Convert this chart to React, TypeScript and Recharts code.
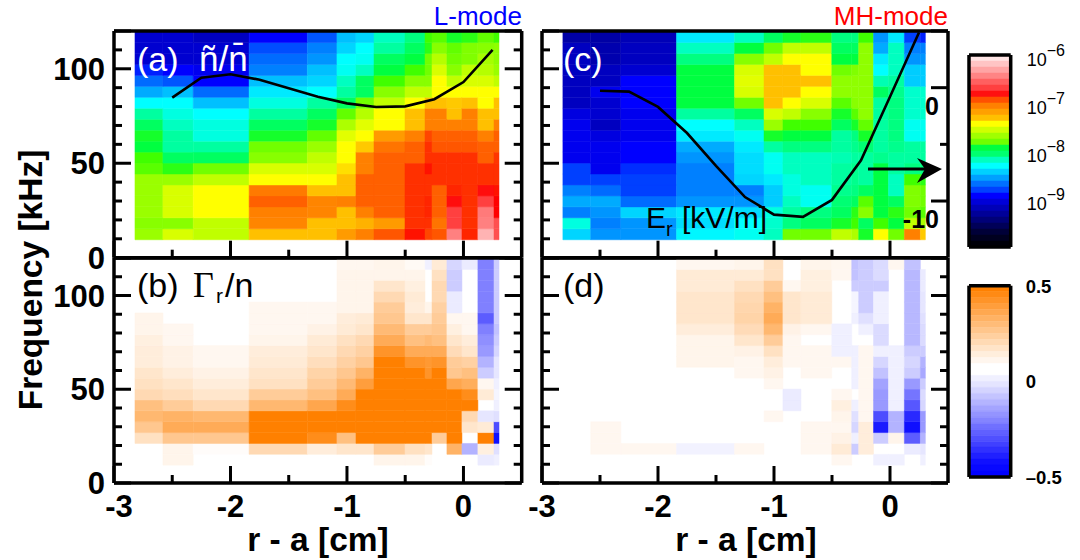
import { ComposedChart, Line, ReferenceArea, XAxis, YAxis } from "recharts";

const FONT = "Liberation Sans, Arial, sans-serif";
const W = 1080;
const H = 560;

// column edges (r - a, cm) and row edges (kHz) of the spectrograms
const X_EDGES = [-2.82, -2.58, -2.32, -1.84, -1.34, -1.086, -0.923, -0.768, -0.502, -0.33, -0.27, -0.142, -0.013, 0.124, 0.262, 0.305];
const F_EDGES = [9.5, 15.3, 21.1, 26.9, 32.7, 38.5, 44.3, 50.1, 55.9, 61.7, 67.5, 73.3, 79.1, 84.9, 90.7, 96.5, 102.3, 108.1, 113.9, 119.9];

const X_TICKS = [-3, -2.5, -2, -1.5, -1, -0.5, 0];
const X_MAJOR = [-3, -2, -1, 0];
const F_TICKS = [0, 10, 20, 30, 40, 50, 60, 70, 80, 90, 100, 110, 120];
const F_MAJOR = [0, 50, 100, 120];
const ER_TICKS = [-15, -10, -5, 0, 5];
const ER_MAJOR = [-15, -10, 0, 5];

// log10 spectrum, one list per column, bottom row first
const SPEC_L = [
  [-7.65, -7.7, -7.65, -7.65, -7.65, -7.65, -7.8, -7.85, -8.0, -7.95, -8.05, -8.15, -8.3, -8.5, -8.65, -8.8, -9.0, -9.0, -9.0],
  [-7.5, -7.7, -7.5, -7.5, -7.5, -7.65, -7.9, -8.05, -8.15, -8.15, -8.2, -8.25, -8.3, -8.45, -8.7, -8.85, -9.0, -9.0, -9.0],
  [-7.55, -7.55, -7.42, -7.42, -7.42, -7.55, -7.75, -8.05, -8.15, -8.25, -8.25, -8.3, -8.45, -8.65, -8.85, -8.9, -9.0, -9.0, -9.05],
  [-7.28, -7.15, -7.14, -7.03, -7.12, -7.42, -7.5, -7.7, -7.75, -7.95, -8.05, -8.15, -8.25, -8.35, -8.45, -8.6, -8.65, -8.72, -8.85],
  [-7.28, -7.28, -7.15, -7.15, -7.28, -7.42, -7.5, -7.55, -7.65, -7.78, -7.95, -8.05, -8.15, -8.3, -8.4, -8.45, -8.55, -8.6, -8.7],
  [-7.2, -7.28, -7.28, -7.14, -7.28, -7.28, -7.35, -7.42, -7.42, -7.48, -7.6, -7.78, -8.05, -8.15, -8.2, -8.28, -8.3, -8.4, -8.45],
  [-7.14, -7.25, -7.14, -7.03, -7.03, -7.03, -7.14, -7.14, -7.3, -7.42, -7.48, -7.58, -7.75, -8.05, -8.05, -8.2, -8.28, -8.3, -8.4],
  [-7.0, -7.2, -7.03, -7.03, -7.03, -7.03, -7.03, -7.03, -7.1, -7.2, -7.42, -7.42, -7.55, -7.7, -7.85, -8.0, -8.05, -8.15, -8.2],
  [-6.8, -6.88, -6.88, -6.88, -6.88, -6.88, -6.88, -7.03, -7.03, -7.14, -7.28, -7.28, -7.42, -7.55, -7.7, -7.85, -8.0, -8.05, -8.1],
  [-6.95, -6.88, -6.85, -6.85, -6.88, -6.88, -6.8, -6.88, -6.88, -6.95, -7.14, -7.14, -7.28, -7.55, -7.7, -7.75, -7.75, -7.9, -7.85],
  [-7.0, -7.1, -7.03, -7.03, -7.03, -6.88, -6.88, -6.88, -7.0, -7.03, -7.14, -7.14, -7.28, -7.42, -7.42, -7.5, -7.58, -7.7, -7.8],
  [-6.4, -6.6, -6.6, -6.72, -6.85, -6.88, -6.88, -6.88, -7.0, -7.03, -7.14, -7.28, -7.3, -7.42, -7.55, -7.7, -7.75, -7.78, -7.95],
  [-6.85, -6.88, -6.88, -6.88, -6.88, -6.88, -6.88, -6.88, -7.0, -7.03, -7.14, -7.14, -7.28, -7.42, -7.5, -7.55, -7.72, -7.72, -7.9],
  [-6.2, -6.4, -6.42, -6.6, -6.72, -6.88, -6.88, -7.03, -7.03, -7.14, -7.28, -7.28, -7.42, -7.42, -7.5, -7.58, -7.62, -7.7, -7.78],
  [-6.55, -6.55, -6.75, -6.75, -6.8, -6.88, -6.88, -6.9, -7.03, -7.03, -7.14, -7.28, -7.28, -7.42, -7.55, -7.65, -7.68, -7.68, -7.85],
];

const SPEC_MH = [
  [-8.4, -8.25, -8.6, -8.5, -8.6, -8.75, -8.75, -8.9, -8.9, -8.9, -8.9, -8.95, -9.05, -9.05, -9.05, -9.05, -9.05, -9.05, -9.2],
  [-8.55, -8.6, -8.55, -8.5, -8.65, -8.75, -8.9, -8.9, -8.9, -8.95, -9.05, -9.0, -9.0, -8.9, -9.05, -9.05, -9.15, -9.15, -9.2],
  [-8.55, -8.55, -8.4, -8.65, -8.75, -8.75, -8.78, -8.85, -8.85, -8.9, -8.9, -8.9, -8.85, -8.85, -8.85, -9.0, -9.05, -9.05, -9.1],
  [-8.32, -8.38, -8.35, -8.55, -8.6, -8.6, -8.6, -8.55, -8.5, -8.35, -8.3, -8.15, -8.0, -8.0, -8.0, -8.0, -8.1, -8.2, -8.35],
  [-8.28, -8.3, -8.38, -8.55, -8.6, -8.4, -8.38, -8.38, -8.35, -8.28, -8.2, -8.05, -7.75, -7.5, -7.48, -7.5, -7.7, -8.0, -8.2],
  [-8.2, -8.22, -8.25, -8.42, -8.42, -8.35, -8.28, -8.28, -8.15, -7.95, -7.65, -7.5, -7.28, -7.28, -7.28, -7.28, -7.55, -7.75, -8.05],
  [-7.75, -8.1, -8.15, -8.2, -8.25, -8.25, -8.2, -8.2, -8.1, -8.0, -7.85, -7.55, -7.42, -7.28, -7.28, -7.28, -7.42, -7.55, -7.95],
  [-7.75, -8.05, -8.1, -8.28, -8.28, -8.2, -8.2, -8.2, -8.1, -8.0, -7.85, -7.7, -7.5, -7.42, -7.28, -7.42, -7.42, -7.55, -7.9],
  [-7.55, -7.95, -8.05, -8.08, -8.12, -8.15, -8.15, -8.18, -8.15, -8.15, -8.05, -7.95, -7.8, -7.68, -7.68, -7.75, -8.0, -8.05, -8.1],
  [-7.6, -7.85, -7.9, -8.05, -8.1, -8.12, -8.12, -8.15, -8.12, -8.1, -7.95, -7.8, -7.7, -7.68, -7.68, -7.72, -8.0, -8.05, -8.1],
  [-7.95, -8.05, -7.7, -7.8, -8.05, -8.15, -8.15, -8.15, -8.08, -7.95, -7.78, -7.68, -7.68, -7.68, -7.68, -7.68, -7.68, -7.68, -7.85],
  [-7.42, -7.85, -8.0, -8.0, -8.0, -8.0, -8.0, -8.12, -8.15, -8.15, -8.15, -8.15, -8.15, -8.05, -8.18, -8.3, -8.35, -8.5, -8.55],
  [-7.75, -8.0, -7.9, -8.05, -8.2, -8.2, -8.15, -8.15, -8.12, -8.1, -8.1, -8.1, -8.1, -8.12, -8.15, -8.2, -8.2, -8.2, -8.35],
  [-7.14, -7.55, -7.75, -7.72, -7.72, -7.85, -8.1, -8.15, -8.15, -8.28, -8.28, -8.22, -8.22, -8.22, -8.42, -8.42, -8.55, -8.6, -8.75],
  [-7.3, -7.6, -7.8, -7.75, -7.75, -7.9, -8.1, -8.15, -8.15, -8.28, -8.28, -8.22, -8.22, -8.22, -8.42, -8.42, -8.55, -8.6, -8.8],
];

// particle flux, same layout
const FLUX_L = [
  [0, 0, 0.12, 0.22, 0.28, 0.25, 0.15, 0.12, 0.1, 0.07, 0.07, 0.06, 0.04, 0.04, 0, 0, 0, 0, 0],
  [0.04, 0.04, 0.22, 0.33, 0.3, 0.2, 0.13, 0.1, 0.07, 0.05, 0.05, 0.03, 0.03, 0, 0, 0, 0, 0, 0],
  [0, 0.01, 0.22, 0.33, 0.28, 0.15, 0.1, 0.07, 0.05, 0.03, 0.03, 0, 0, 0, 0, 0, 0, 0, 0],
  [0, 0.15, 0.5, 0.5, 0.5, 0.28, 0.2, 0.12, 0.1, 0.08, 0.07, 0.04, 0.03, 0.03, 0.03, 0, 0, 0, 0],
  [0, 0.07, 0.45, 0.5, 0.5, 0.35, 0.25, 0.2, 0.17, 0.13, 0.1, 0.08, 0.05, 0.03, 0.03, 0, 0, 0, 0],
  [0, 0.1, 0.25, 0.5, 0.5, 0.45, 0.33, 0.27, 0.22, 0.18, 0.15, 0.12, 0.08, 0.07, 0.04, 0.04, 0.04, 0.04, 0.03],
  [0, 0.1, 0.5, 0.5, 0.5, 0.5, 0.5, 0.38, 0.3, 0.22, 0.18, 0.15, 0.1, 0.08, 0.04, 0.04, 0.04, 0.04, 0.03],
  [0.04, 0.2, 0.5, 0.5, 0.5, 0.5, 0.5, 0.5, 0.5, 0.5, 0.42, 0.33, 0.27, 0.22, 0.2, 0.15, 0.1, 0.04, 0.04],
  [0.04, 0.12, 0.5, 0.5, 0.5, 0.5, 0.5, 0.5, 0.5, 0.42, 0.33, 0.25, 0.2, 0.1, 0.07, 0.08, 0.06, 0.04, 0.02],
  [0.01, 0.1, 0.5, 0.5, 0.5, 0.5, 0.5, 0.5, 0.42, 0.4, 0.33, 0.27, 0.2, 0.1, 0.04, 0, 0, 0, -0.03],
  [0, 0, 0.2, 0.5, 0.5, 0.5, 0.5, 0.5, 0.5, 0.42, 0.33, 0.25, 0.22, 0.2, 0.18, 0.15, 0.15, 0.12, 0.08],
  [0, 0.3, 0.5, 0.5, 0.5, 0.5, 0.5, 0.35, 0.22, 0.2, 0.14, 0.1, 0.06, 0.03, -0.04, -0.04, -0.1, -0.1, -0.08],
  [0, -0.15, 0, 0.1, 0.15, 0.5, 0.45, 0.32, 0.25, 0.18, 0.1, 0.07, 0.03, 0.03, 0, 0, 0, 0, -0.04],
  [-0.04, 0.06, 0.5, 0.08, -0.05, 0, 0.08, 0.03, -0.1, -0.15, -0.2, -0.22, -0.25, -0.32, -0.25, -0.25, -0.25, -0.25, -0.25],
  [-0.03, -0.06, -0.47, -0.35, -0.06, -0.03, -0.02, -0.03, -0.05, -0.05, -0.08, -0.1, -0.12, -0.1, -0.1, -0.1, -0.1, -0.1, -0.1],
];

const FLUX_MH = [
  [0, 0, 0, 0, 0, 0, 0, 0, 0, 0, 0, 0, 0, 0, 0, 0, 0, 0, 0],
  [0, 0.03, 0.03, 0.03, 0, 0, 0, 0, 0, 0, 0, 0, 0, 0, 0, 0, 0, 0, 0],
  [0, 0.03, 0, 0, 0, 0, 0, 0, 0, 0, 0, 0, 0, 0, 0, 0, 0, 0, 0],
  [0, -0.025, 0, 0, 0, 0, 0, 0, 0, 0.04, 0.04, 0.04, 0.07, 0.1, 0.1, 0.1, 0.08, 0.08, 0.03],
  [0, 0.03, 0, 0, 0, 0, 0, 0, 0.03, 0.03, 0.05, 0.1, 0.14, 0.17, 0.16, 0.15, 0.12, 0.08, 0.04],
  [0, 0, 0, 0, 0.03, 0, 0, 0.03, 0.05, 0.07, 0.12, 0.2, 0.28, 0.33, 0.3, 0.25, 0.2, 0.12, 0.12],
  [0, 0, 0, 0, 0, -0.04, -0.04, 0, 0, 0.03, 0.03, 0.03, 0.05, 0.1, 0.1, 0.1, 0.03, 0, 0],
  [0, 0.03, 0.03, 0.03, 0, 0, 0, 0, 0.03, 0.03, 0.03, 0, 0.03, 0.08, 0.08, 0.08, 0.06, 0.06, 0.04],
  [0.03, 0.08, 0.05, 0.03, 0.04, 0.06, 0.03, 0, 0, 0.03, -0.03, -0.03, -0.03, 0, 0, 0, 0, 0.03, 0.03],
  [0, -0.1, -0.03, -0.08, -0.06, -0.03, 0, -0.03, -0.03, -0.03, -0.03, 0, 0, -0.03, -0.02, -0.02, -0.1, -0.12, -0.12],
  [0, 0.07, 0.07, 0.07, 0.03, 0.03, 0.03, 0.03, 0.03, 0.03, 0.03, 0, -0.03, -0.06, -0.1, -0.1, -0.1, -0.1, -0.1],
  [-0.03, 0, -0.1, -0.45, -0.35, -0.2, -0.2, -0.18, -0.12, -0.08, -0.03, -0.07, -0.07, -0.03, -0.03, -0.03, -0.1, -0.07, -0.07],
  [-0.03, 0, 0.04, -0.15, -0.15, -0.03, -0.03, -0.03, -0.03, -0.03, -0.03, 0, 0, 0, 0, 0, 0, 0, 0.03],
  [0, -0.04, -0.32, -0.47, -0.42, -0.33, -0.27, -0.2, -0.1, -0.08, -0.1, -0.14, -0.14, -0.14, -0.14, -0.14, -0.14, -0.14, -0.12],
  [-0.03, -0.05, -0.15, -0.2, -0.2, -0.08, -0.07, -0.1, -0.17, -0.15, -0.1, -0.07, -0.07, -0.06, -0.05, -0.05, -0.04, -0.04, 0],
];

// black curves
const R_CURVE = [-2.5, -2.25, -2, -1.75, -1.5, -1.25, -1, -0.75, -0.5, -0.25, 0, 0.25];
const FLUCT_CURVE = [84.7, 95.3, 97.1, 94.2, 89.7, 85.2, 81.7, 79.8, 80.1, 83.9, 93, 110];
const ER_CURVE = [-0.27, -0.35, -1.7, -4.0, -6.9, -9.65, -11.2, -11.4, -9.9, -6.4, -0.8, 4.87];

// colour scales
const LOG_STOPS = [-10, -9.4, -9.05, -8.85, -8.75, -8.6, -8.45, -8.3, -8.2, -8.1, -8.0, -7.85, -7.72, -7.55, -7.42, -7.28, -7.14, -7.03, -6.88, -6.75, -6.6, -6.4, -6.15, -5.93];
const LOG_COLORS = ["#000000", "#000080", "#0000c0", "#0000ff", "#0040ff", "#0080ff", "#00c0ff", "#00ffff", "#00ffc0", "#00ff80", "#00ff40", "#40ff00", "#80ff00", "#c0ff00", "#ffff00", "#ffc000", "#ff8000", "#ff6000", "#ff3000", "#ff0000", "#ff4040", "#ff8080", "#ffc0c0", "#ffe8e8"];
const LOG_BANDS = ["#ffe4e4", "#ffc4c4", "#ffa4a4", "#ff8484", "#ff6060", "#ff4040", "#ff1010", "#ff5000", "#ff8000", "#ffa000", "#ffc000", "#ffff00", "#d0ff00", "#a0ff00", "#70ff00", "#00ff40", "#00ff70", "#00ffc0", "#00ffff", "#00d0ff", "#00a0ff", "#0070ff", "#0040ff", "#0000ff", "#0000d8", "#0000b8", "#000098", "#000078", "#000058", "#000038", "#000020", "#000008"];
const FLUX_BANDS = ["#ff8000", "#ff8a14", "#ff9428", "#ff9e3c", "#ffa850", "#ffb264", "#ffbc78", "#ffc68c", "#ffd0a0", "#ffdab4", "#ffe4c8", "#ffeedc", "#fff6ee", "#ffffff", "#ffffff", "#f0f0ff", "#e4e4ff", "#d4d4ff", "#c4c4ff", "#b4b4ff", "#a4a4ff", "#9494ff", "#8484ff", "#7070ff", "#6060ff", "#5050ff", "#4040ff", "#3030ff", "#2020ff", "#1010ff", "#0808ff", "#0000ff"];
const LOG_TICKS = [-9, -8, -7, -6];
const FLUX_TICKS = [-0.5, 0, 0.5];

const hex = (c: string) => [1, 3, 5].map((i) => parseInt(c.slice(i, i + 2), 16));

function logColor(v: number) {
  let i = 0;
  while (i < LOG_STOPS.length - 2 && v > LOG_STOPS[i + 1]) i++;
  const t = Math.min(1, Math.max(0, (v - LOG_STOPS[i]) / (LOG_STOPS[i + 1] - LOG_STOPS[i])));
  const a = hex(LOG_COLORS[i]);
  const b = hex(LOG_COLORS[i + 1]);
  return `rgb(${a.map((p, k) => Math.round(p + (b[k] - p) * t)).join(",")})`;
}

function fluxColor(v: number) {
  const t = Math.min(1, Math.abs(v) / 0.5);
  if (v >= 0) return `rgb(255,${Math.round(255 - 127 * t)},${Math.round(255 - 255 * t)})`;
  return `rgb(${Math.round(255 - 255 * t)},${Math.round(255 - 255 * t)},255)`;
}

function makeTick(kind: "x" | "y", dir: number, major: number[], label?: (v: number) => string | null, shiftFirst = 0) {
  return (p: any) => {
    const v = p.payload.value;
    const len = major.includes(v) ? 17 : 8;
    const text = label ? label(v) : null;
    return (
      <g>
        {kind === "x" ? (
          <line x1={p.x} x2={p.x} y1={p.y} y2={p.y + dir * len} stroke="#000" strokeWidth={3} />
        ) : (
          <line x1={p.x} x2={p.x + dir * len} y1={p.y} y2={p.y} stroke="#000" strokeWidth={3} />
        )}
        {text !== null && kind === "x" && (
          <text x={p.x + (v === -3 ? shiftFirst : 0)} y={p.y + 34} textAnchor="middle" fontFamily={FONT} fontWeight="bold" fontSize={31}>
            {text}
          </text>
        )}
        {text !== null && kind === "y" && (
          <text x={p.x - 9} y={p.y + 11} textAnchor="end" fontFamily={FONT} fontWeight="bold" fontSize={31}>
            {text}
          </text>
        )}
      </g>
    );
  };
}

const rLabel = (v: number) => (X_MAJOR.includes(v) ? String(v) : null);
const fLabel = (v: number) => ([0, 50, 100].includes(v) ? String(v) : null);

const erTick = (p: any) => {
  const v = p.payload.value;
  const len = ER_MAJOR.includes(v) ? 17 : 8;
  return (
    <g>
      <line x1={p.x} x2={p.x - len} y1={p.y} y2={p.y} stroke="#000" strokeWidth={3} />
      {(v === 0 || v === -10) && (
        <text x={p.x - 9} y={p.y + 27} textAnchor="end" fontFamily={FONT} fontWeight="bold" fontSize={25}>
          {v}
        </text>
      )}
    </g>
  );
};

const noTick = () => <g />;
const frameLine = { stroke: "#000", strokeWidth: 3.5 };

function Panel(props: {
  box: number[];
  values: number[][];
  color: (v: number) => string;
  skipZero?: boolean;
  showX?: boolean;
  showY?: boolean;
  curve?: number[];
  curveAxis?: string;
  er?: boolean;
}) {
  const [left, top, right, bottom] = props.box;
  const line = props.curve ? R_CURVE.map((x, i) => ({ x, y: props.curve![i] })) : [];
  return (
    <div style={{ position: "absolute", left: 0, top: 0 }}>
      <ComposedChart width={W} height={H} margin={{ left: left - 1, top: top - 1, right: W - right - 1, bottom: H - bottom - 1 }}>
        <XAxis dataKey="x" type="number" domain={[-3, 0.5]} allowDataOverflow ticks={X_TICKS} interval={0} height={1} tickSize={0} tickMargin={0} tickLine={false} axisLine={frameLine} tick={makeTick("x", -1, X_MAJOR, props.showX ? rLabel : undefined, props.showY ? 5 : 0)} />
        <XAxis xAxisId="top" orientation="top" type="number" domain={[-3, 0.5]} allowDataOverflow ticks={X_TICKS} interval={0} height={1} tickSize={0} tickMargin={0} tickLine={false} axisLine={frameLine} tick={makeTick("x", 1, X_MAJOR)} />
        <YAxis type="number" domain={[0, 120]} allowDataOverflow ticks={F_TICKS} interval={0} width={1} tickSize={0} tickMargin={0} tickLine={false} axisLine={frameLine} tick={makeTick("y", 1, F_MAJOR, props.showY ? fLabel : undefined)} />
        <YAxis yAxisId="right" orientation="right" type="number" domain={props.er ? [-15, 5] : [0, 120]} allowDataOverflow ticks={props.er ? ER_TICKS : F_TICKS} interval={0} width={1} tickSize={0} tickMargin={0} tickLine={false} axisLine={frameLine} tick={props.er ? erTick : makeTick("y", -1, F_MAJOR)} />
        {props.values.flatMap((col, c) =>
          col.map((v, r) =>
            props.skipZero && v === 0 ? null : (
              <ReferenceArea key={`${c}-${r}`} x1={X_EDGES[c]} x2={X_EDGES[c + 1]} y1={F_EDGES[r]} y2={F_EDGES[r + 1]} fill={props.color(v)} fillOpacity={1} stroke={props.color(v)} strokeWidth={0.5} />
            ),
          ),
        )}
        {props.curve && (
          <Line data={line} dataKey="y" yAxisId={props.curveAxis ?? 0} stroke="#000" strokeWidth={2.6} dot={false} isAnimationActive={false} type="linear" />
        )}
      </ComposedChart>
    </div>
  );
}

function ColorBar(props: { box: number[]; bands: string[]; domain: number[]; ticks: number[]; tick: (p: any) => any }) {
  const [left, top, right, bottom] = props.box;
  const [lo, hi] = props.domain;
  const step = (hi - lo) / props.bands.length;
  return (
    <div style={{ position: "absolute", left: 0, top: 0 }}>
      <ComposedChart width={W} height={H} margin={{ left: left - 1, top: top - 1, right: W - right - 1, bottom: H - bottom - 1 }}>
        <XAxis dataKey="x" type="number" domain={[0, 10]} allowDataOverflow ticks={[0, 10]} interval={0} height={1} tickSize={0} tickMargin={0} tickLine={false} axisLine={frameLine} tick={noTick} />
        <XAxis xAxisId="top" orientation="top" type="number" domain={[0, 10]} allowDataOverflow ticks={[0, 10]} interval={0} height={1} tickSize={0} tickMargin={0} tickLine={false} axisLine={frameLine} tick={noTick} />
        <YAxis type="number" domain={props.domain} allowDataOverflow ticks={props.ticks} interval={0} width={1} tickSize={0} tickMargin={0} tickLine={false} axisLine={frameLine} tick={noTick} />
        <YAxis yAxisId="right" orientation="right" type="number" domain={props.domain} allowDataOverflow ticks={props.ticks} interval={0} width={1} tickSize={0} tickMargin={0} tickLine={false} axisLine={frameLine} tick={props.tick} />
        {props.bands.map((c, i) => (
          <ReferenceArea key={i} ifOverflow="visible" x1={1e-6} x2={10} y1={hi - step * (i + 1)} y2={hi - step * i} fill={c} fillOpacity={1} stroke={c} strokeWidth={0.5} />
        ))}
      </ComposedChart>
    </div>
  );
}

const logTick = (p: any) => (
  <text x={p.x + 16} y={p.y + 8} fontFamily={FONT} fontSize={18}>
    10
    <tspan dy={-10} fontSize={16}>
      {`\u2212${Math.abs(p.payload.value)}`}
    </tspan>
  </text>
);

const fluxTick = (p: any) => (
  <text x={p.x + 15} y={p.y + 7} fontFamily={FONT} fontWeight="bold" fontSize={18.5}>
    {p.payload.value < 0 ? "\u20130.5" : p.payload.value}
  </text>
);

function Notes() {
  const big = { fontFamily: FONT, fontSize: 34 };
  return (
    <svg width={W} height={H} style={{ position: "absolute", left: 0, top: 0 }}>
      <text x={522} y={25} textAnchor="end" fontFamily={FONT} fontSize={26} fill="#0000ff">L-mode</text>
      <text x={948} y={25} textAnchor="end" fontFamily={FONT} fontSize={26} fill="#ff0000">MH-mode</text>
      <text x={137} y={71} fill="#fff" {...big}>(a)</text>
      <text x={199} y={71} fill="#fff" fontFamily={FONT} fontSize={35}>{"\u00f1/n\u0304"}</text>
      <text x={563} y={71} fill="#fff" {...big}>(c)</text>
      <text x={137} y={297} {...big}>(b)</text>
      <text x={193} y={297} fontFamily="Liberation Serif" fontSize={36}>{"\u0393"}</text>
      <text x={216} y={303} fontFamily={FONT} fontSize={21}>r</text>
      <text x={225} y={297} {...big}>/n</text>
      <text x={563} y={297} {...big}>(d)</text>
      <text x={646} y={228} fontFamily={FONT} fontSize={30}>E</text>
      <text x={666} y={236} fontFamily={FONT} fontSize={20}>r</text>
      <text x={682} y={228} fontFamily={FONT} fontSize={30}>[kV/m]</text>
      <line x1={868} y1={169} x2={925} y2={169} stroke="#000" strokeWidth={3} />
      <polygon points="942,169 917,158 925,169 917,183" fill="#000" />
      <text transform="translate(42,280) rotate(-90)" textAnchor="middle" fontFamily={FONT} fontWeight="bold" fontSize={33.5}>Frequency [kHz]</text>
      <text x={318} y={551} textAnchor="middle" fontFamily={FONT} fontWeight="bold" fontSize={33.5}>r - a [cm]</text>
      <text x={746} y={551} textAnchor="middle" fontFamily={FONT} fontWeight="bold" fontSize={33.5}>r - a [cm]</text>
    </svg>
  );
}

export default function App() {
  return (
    <div style={{ position: "absolute", left: 0, top: 0, width: W, height: H, background: "#fff", overflow: "hidden" }}>
      <Panel box={[114, 31, 521.7, 257.7]} values={SPEC_L} color={logColor} showY curve={FLUCT_CURVE} />
      <Panel box={[114, 258, 521.7, 483]} values={FLUX_L} color={fluxColor} skipZero showX showY />
      <Panel box={[542, 31, 948, 257.7]} values={SPEC_MH} color={logColor} curve={ER_CURVE} curveAxis="right" er />
      <Panel box={[542, 258, 948, 483]} values={FLUX_MH} color={fluxColor} skipZero showX />
      <ColorBar box={[969, 55, 1010.7, 247]} bands={LOG_BANDS} domain={[-9.93, -5.93]} ticks={LOG_TICKS} tick={logTick} />
      <ColorBar box={[969, 285.7, 1010.7, 477]} bands={FLUX_BANDS} domain={[-0.5, 0.5]} ticks={FLUX_TICKS} tick={fluxTick} />
      <Notes />
    </div>
  );
}
